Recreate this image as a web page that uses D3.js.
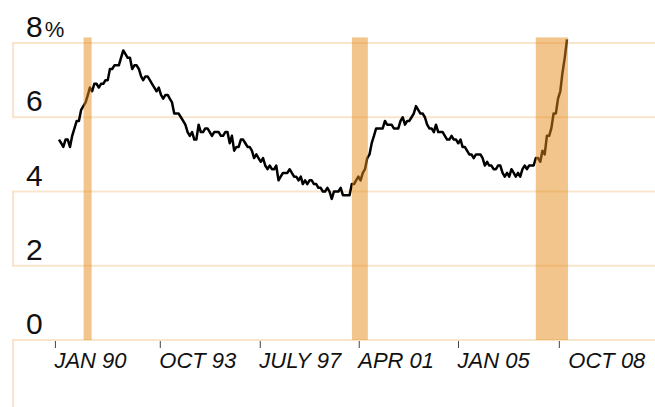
<!DOCTYPE html>
<html>
<head>
<meta charset="utf-8">
<script src="https://cdn.jsdelivr.net/npm/d3@7"></script>
<style>
  body { margin: 0; background: #fff; }
  svg { display: block; font-family: "Liberation Sans", Arial, Helvetica, sans-serif; }
</style>
</head>
<body>
<div id="container"></div>
<script>
const WIDTH = 655;
const HEIGHT = 407;

// monthly unemployment rate, Jan 1990 .. Feb 2009
const firstMonth = new Date(1990, 0, 1);
const rates = [
    5.4, 5.3, 5.2, 5.4, 5.4, 5.2, 5.5, 5.7, 5.9, 5.9, 6.2, 6.3, // 1990
    6.4, 6.6, 6.8, 6.7, 6.9, 6.9, 6.8, 6.9, 6.9, 7.0, 7.0, 7.3, // 1991
    7.3, 7.4, 7.4, 7.4, 7.6, 7.8, 7.7, 7.6, 7.6, 7.3, 7.4, 7.4, // 1992
    7.3, 7.1, 7.0, 7.1, 7.1, 7.0, 6.9, 6.8, 6.7, 6.8, 6.6, 6.5, // 1993
    6.6, 6.6, 6.5, 6.4, 6.1, 6.1, 6.1, 6.0, 5.9, 5.8, 5.6, 5.5, // 1994
    5.6, 5.4, 5.4, 5.8, 5.6, 5.6, 5.7, 5.7, 5.6, 5.5, 5.6, 5.6, // 1995
    5.6, 5.5, 5.5, 5.6, 5.6, 5.3, 5.5, 5.1, 5.2, 5.2, 5.4, 5.4, // 1996
    5.3, 5.2, 5.2, 5.1, 4.9, 5.0, 4.9, 4.8, 4.9, 4.7, 4.6, 4.7, // 1997
    4.6, 4.6, 4.7, 4.3, 4.4, 4.5, 4.5, 4.5, 4.6, 4.5, 4.4, 4.4, // 1998
    4.3, 4.4, 4.2, 4.3, 4.2, 4.3, 4.3, 4.2, 4.2, 4.1, 4.1, 4.0, // 1999
    4.0, 4.1, 4.0, 3.8, 4.0, 4.0, 4.0, 4.1, 3.9, 3.9, 3.9, 3.9, // 2000
    4.2, 4.2, 4.3, 4.4, 4.3, 4.5, 4.6, 4.9, 5.0, 5.3, 5.5, 5.7, // 2001
    5.7, 5.7, 5.7, 5.9, 5.8, 5.8, 5.8, 5.7, 5.7, 5.7, 5.9, 6.0, // 2002
    5.8, 5.9, 5.9, 6.0, 6.1, 6.3, 6.2, 6.1, 6.1, 6.0, 5.8, 5.7, // 2003
    5.7, 5.6, 5.8, 5.6, 5.6, 5.6, 5.5, 5.4, 5.4, 5.5, 5.4, 5.4, // 2004
    5.3, 5.4, 5.2, 5.2, 5.1, 5.0, 5.0, 4.9, 5.0, 5.0, 5.0, 4.9, // 2005
    4.7, 4.8, 4.7, 4.7, 4.6, 4.6, 4.7, 4.7, 4.5, 4.4, 4.5, 4.4, // 2006
    4.6, 4.5, 4.4, 4.5, 4.4, 4.6, 4.7, 4.6, 4.7, 4.7, 4.7, 4.9, // 2007
    4.9, 4.8, 5.1, 5.0, 5.5, 5.5, 5.7, 6.1, 6.1, 6.5, 6.7, 7.2, // 2008
    7.6, 8.1                                                    // 2009
];

// shaded recessions
const recessionStarts = ["1990-12-05", "2001-01-03", "2007-12-01"];
const recessionEnds = ["1991-03-25", "2001-08-09", "2009-02-14"];

const tickDates = ["1989-11-06", "1993-10-15", "1997-07-18", "2001-04-06", "2004-12-28", "2008-10-12"];
const tickLabels = ["JAN 90", "OCT 93", "JULY 97", "APR 01", "JAN 05", "OCT 08"];
const yTicks = [0, 2, 4, 6, 8];
const bands = [[6, 8], [2, 4], [-2, 0]];

const GRID = "#f9e5cb";
const parse = d3.timeParse("%Y-%m-%d");

var series = rates.map(function (v, i) {
    return {date: d3.timeMonth.offset(firstMonth, i), value: v};
});

var XScale = d3.scaleTime()
    .domain([firstMonth, series[series.length - 1].date])
    .range([59, 567]);
var YScale = d3.scaleLinear().domain([0, 8]).range([340, 43]);

var svg = d3.select("#container").append("svg")
    .attr("width", WIDTH)
    .attr("height", HEIGHT);

// banded grid: outlined boxes for every other 2-point band
svg.append("g").selectAll("rect")
    .data(bands)
    .join("rect")
    .attr("x", 13)
    .attr("y", d => YScale(d[1]))
    .attr("width", WIDTH)
    .attr("height", d => YScale(d[0]) - YScale(d[1]))
    .attr("fill", "none")
    .attr("stroke", GRID)
    .attr("stroke-width", 2);

// y labels sit just above their grid line
var yLabels = svg.append("g").selectAll("text")
    .data(yTicks)
    .join("text")
    .attr("x", 26)
    .attr("y", d => YScale(d) - 6)
    .attr("font-size", 30)
    .attr("fill", "#111")
    .text(d => d);
yLabels.filter(d => d === 8).append("tspan")
    .attr("font-size", 22)
    .attr("dx", 2)
    .text("%");

// x axis ticks + labels
var xAxis = svg.append("g")
    .attr("transform", "translate(0," + YScale(0) + ")")
    .call(d3.axisBottom(XScale)
        .tickValues(tickDates.map(parse))
        .tickFormat((d, i) => tickLabels[i])
        .tickSize(8));
xAxis.select(".domain").remove();
xAxis.selectAll(".tick line").attr("stroke", "#444").attr("y1", 1);
xAxis.selectAll(".tick text")
    .attr("y", 28)
    .attr("dy", 0)
    .attr("dx", (d, i) => i === tickLabels.length - 1 ? 9 : -1)
    .attr("text-anchor", "start")
    .attr("font-family", "'Liberation Sans', Arial, sans-serif")
    .attr("font-style", "italic")
    .attr("font-size", 22)
    .attr("fill", "#111");

// the rate line
var line = d3.line()
    .x(d => XScale(d.date))
    .y(d => YScale(d.value));

svg.append("path")
    .datum(series)
    .attr("d", line)
    .attr("fill", "none")
    .attr("stroke", "#000")
    .attr("stroke-width", 2.5)
    .attr("stroke-linejoin", "round");

// recession bars laid over everything, half transparent
svg.append("g").selectAll("rect")
    .data(d3.zip(recessionStarts, recessionEnds))
    .join("rect")
    .attr("x", d => XScale(parse(d[0])))
    .attr("width", d => XScale(parse(d[1])) - XScale(parse(d[0])))
    .attr("y", YScale(8.15))
    .attr("height", YScale(0) - YScale(8.15))
    .attr("fill", "#e58b1a")
    .attr("opacity", 0.5);
</script>
</body>
</html>
